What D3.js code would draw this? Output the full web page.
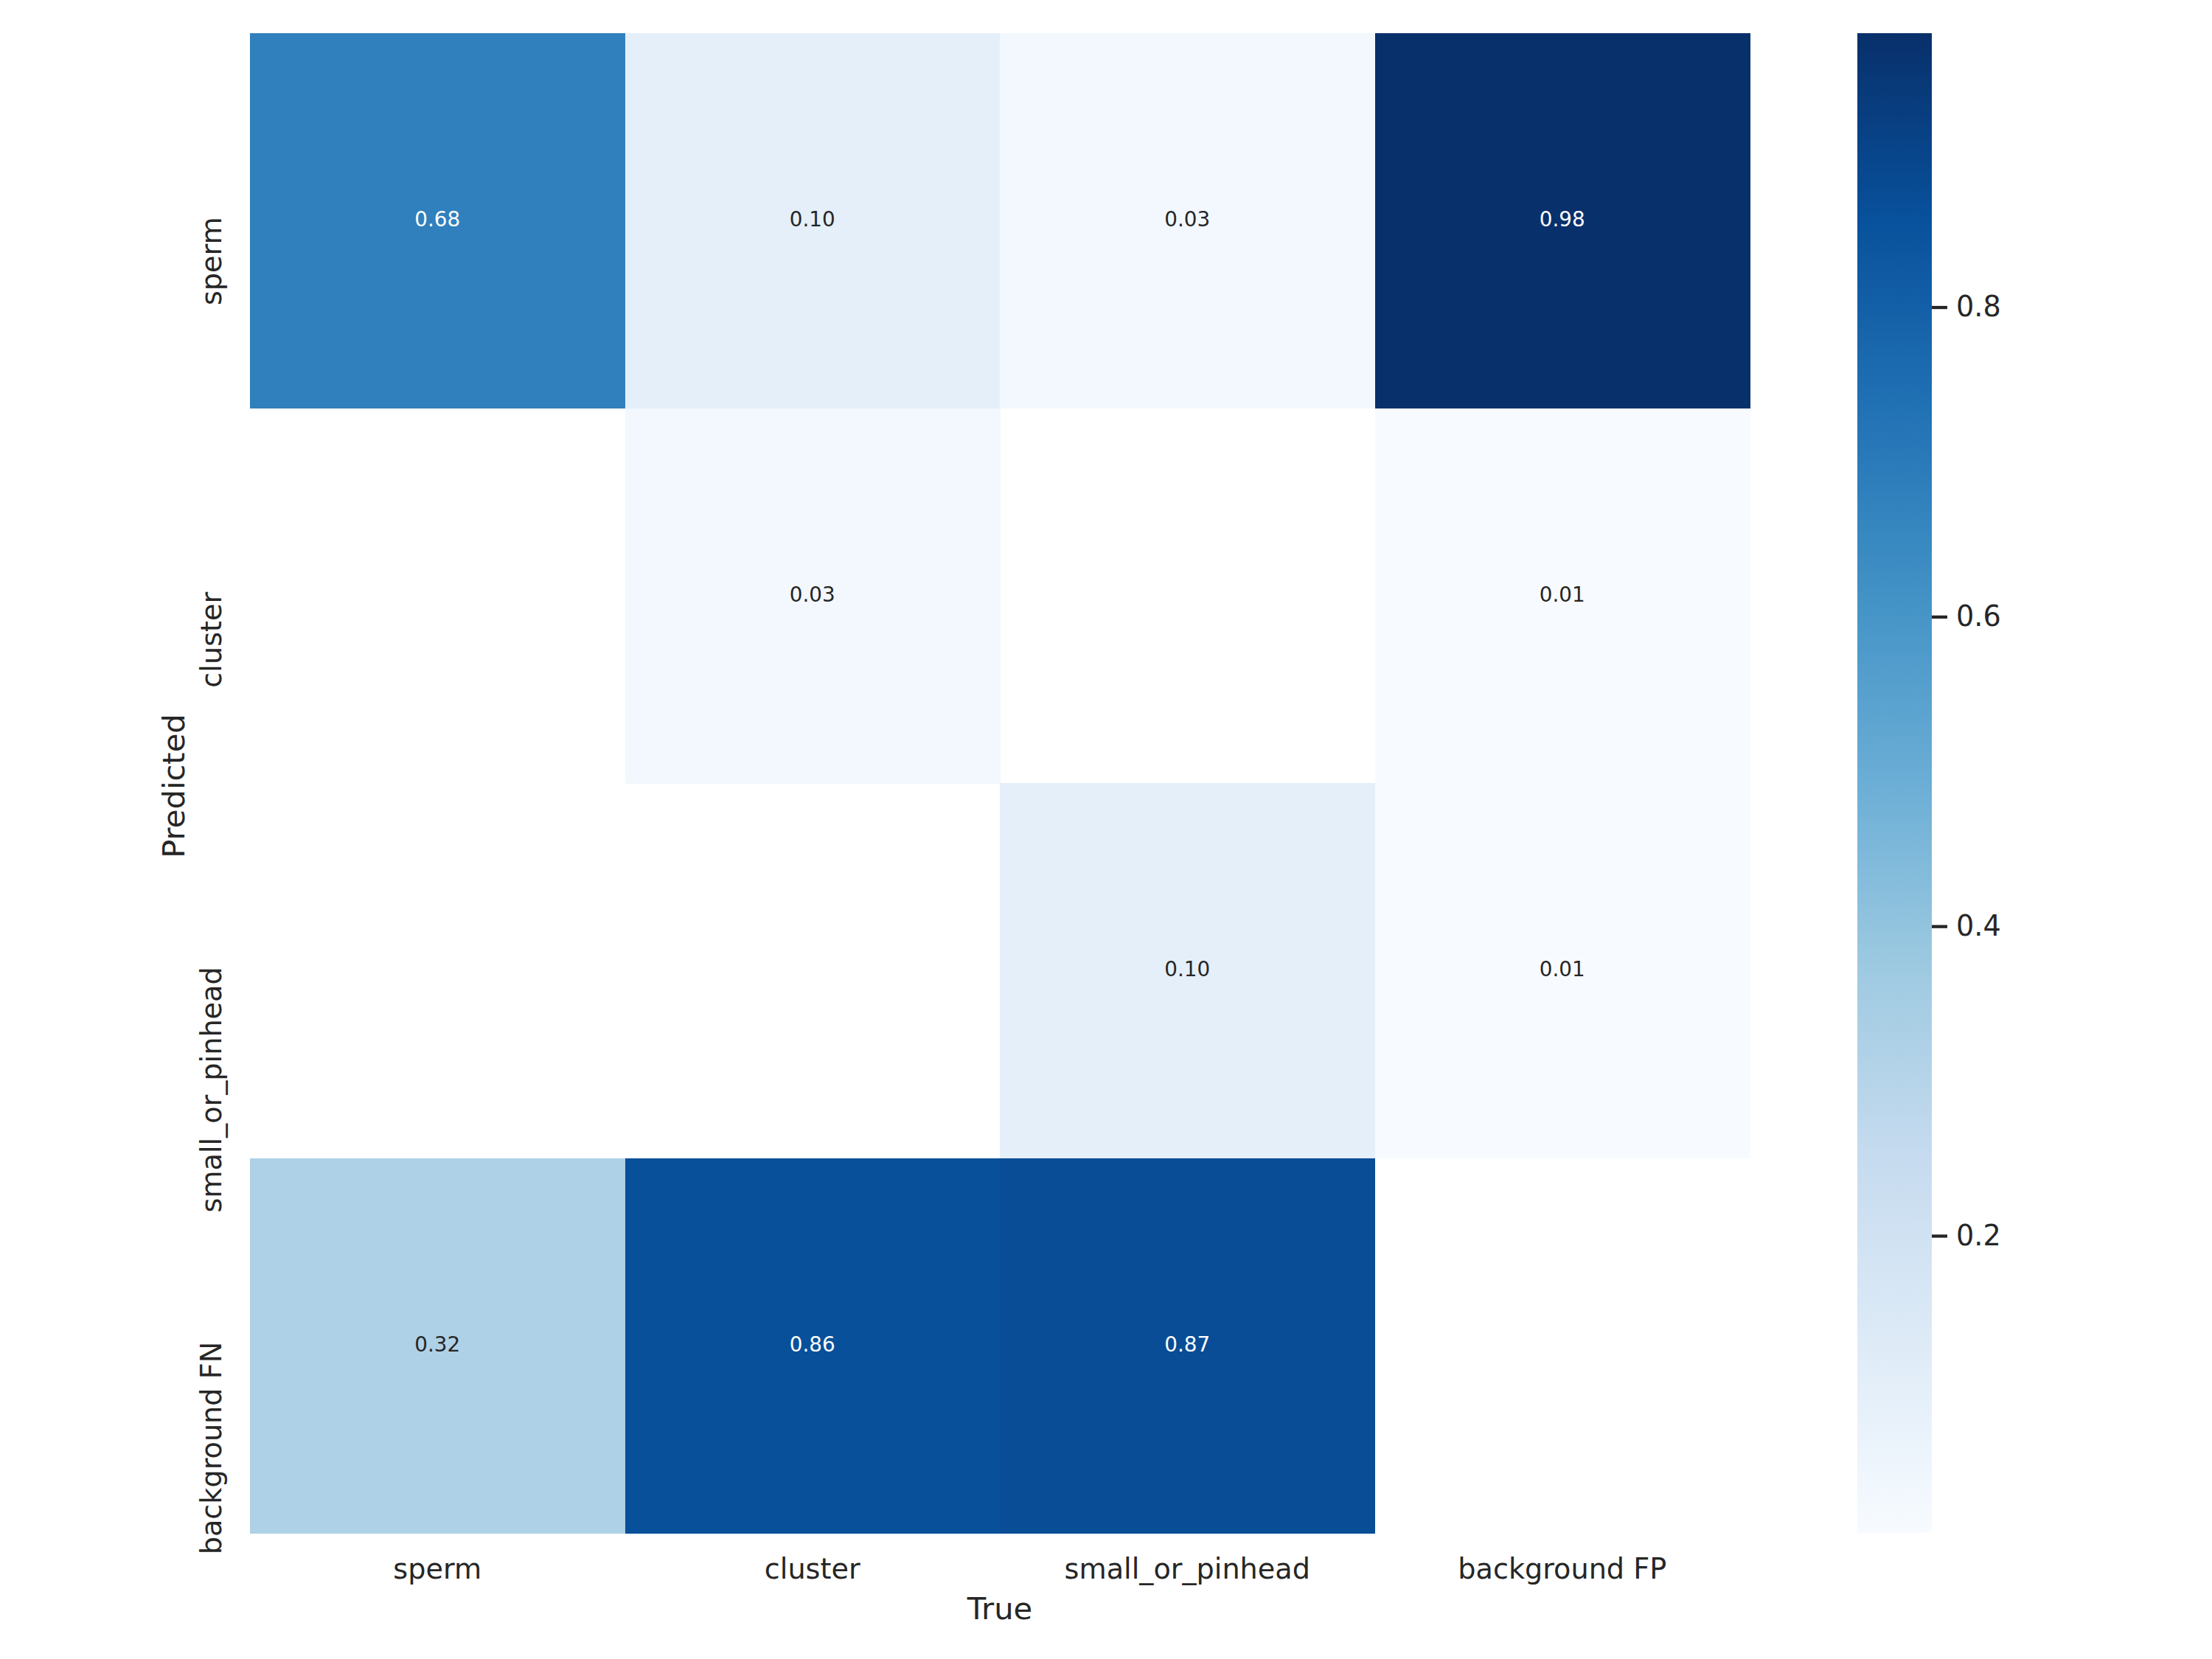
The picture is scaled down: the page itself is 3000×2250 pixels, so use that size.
<!DOCTYPE html>
<html>
<head>
<meta charset="utf-8">
<script src="https://cdn.jsdelivr.net/npm/d3@7"></script>
<style>
  html, body { margin: 0; padding: 0; background: #ffffff; }
  svg { display: block; }
  text { font-family: "DejaVu Sans", sans-serif; }
</style>
</head>
<body>
<svg id="chart" width="3000" height="2250"></svg>
<script>
// ---------------- data ----------------
const trueLabels = ["sperm", "cluster", "small_or_pinhead", "background FP"];
const predictedLabels = ["sperm", "cluster", "small_or_pinhead", "background FN"];
// one array per predicted row, values per true column (null = blank cell)
const rowSperm        = [0.68, 0.10, 0.03, 0.977];
const rowCluster      = [null, 0.03, null, 0.01];
const rowSmallPinhead = [null, null, 0.10, 0.008];
const rowBackgroundFN = [0.32, 0.86, 0.87, null];
const colorbarTicks = [0.2, 0.4, 0.6, 0.8];
const bluesColors = ["#f7fbff", "#deebf7", "#c6dbef", "#9ecae1", "#6baed6", "#4292c6", "#2171b5", "#08519c", "#08306b"];

const rows = [rowSperm, rowCluster, rowSmallPinhead, rowBackgroundFN];

// ---------------- layout ----------------
const svg = d3.select("#chart");
const heat = { left: 339, right: 2373, top: 45, bottom: 2079 };
const cbar = { left: 2519, right: 2620 };
const ink = "#262626";

const cells = [];
rows.forEach((r, i) => r.forEach((v, j) => {
  if (v !== null) cells.push({ row: predictedLabels[i], col: trueLabels[j], value: v });
}));

const ext = d3.extent(cells, d => d.value);
const colorDomain = bluesColors.map((c, k) => ext[0] + (ext[1] - ext[0]) * k / (bluesColors.length - 1));
const color = d3.scaleLinear().domain(colorDomain).range(bluesColors).interpolate(d3.interpolateRgb).clamp(true);

const x = d3.scaleBand().domain(trueLabels).range([heat.left, heat.right]).padding(0);
const y = d3.scaleBand().domain(predictedLabels).range([heat.top, heat.bottom]).padding(0);

// cells
svg.append("g").selectAll("rect").data(cells).join("rect")
  .attr("x", d => x(d.col))
  .attr("y", d => y(d.row))
  .attr("width", x.bandwidth() + 0.5)
  .attr("height", y.bandwidth() + 0.5)
  .attr("fill", d => color(d.value))
  .attr("shape-rendering", "crispEdges");

function luminance(c) {
  const rgb = d3.rgb(c);
  const f = v => { v /= 255; return v <= 0.03928 ? v / 12.92 : Math.pow((v + 0.055) / 1.055, 2.4); };
  return 0.2126 * f(rgb.r) + 0.7152 * f(rgb.g) + 0.0722 * f(rgb.b);
}

// annotations
const annFs = 27.8;
svg.append("g").selectAll("text").data(cells).join("text")
  .attr("x", d => x(d.col) + x.bandwidth() / 2)
  .attr("y", d => y(d.row) + y.bandwidth() / 2 + annFs * 0.364 - 2)
  .attr("text-anchor", "middle")
  .attr("font-size", annFs)
  .attr("fill", d => luminance(color(d.value)) > 0.408 ? ink : "#ffffff")
  .text(d => d3.format(".2f")(d.value));

// x axis (True)
const tickFs = 38.2;
const xAxis = d3.axisBottom(x).tickSize(0).tickPadding(34.5);
const gx = svg.append("g").attr("transform", `translate(0,${heat.bottom})`).call(xAxis);
gx.select(".domain").remove();
gx.selectAll("text").attr("font-size", tickFs).attr("fill", ink).attr("font-family", "DejaVu Sans");

// y tick labels (rotated, text end anchored near row centre)
svg.append("g").selectAll("text").data(predictedLabels).join("text")
  .attr("transform", d => `translate(300,${y(d) + y.bandwidth() / 2 - 5}) rotate(-90)`)
  .attr("text-anchor", "end")
  .attr("font-size", tickFs)
  .attr("fill", ink)
  .text(d => d);

// axis labels
const labelFs = 41.67;
svg.append("text")
  .attr("x", (heat.left + heat.right) / 2)
  .attr("y", 2196)
  .attr("text-anchor", "middle")
  .attr("font-size", labelFs)
  .attr("fill", ink)
  .text("True");
svg.append("text")
  .attr("transform", `translate(250,${(heat.top + heat.bottom) / 2 + 4}) rotate(-90)`)
  .attr("text-anchor", "middle")
  .attr("font-size", labelFs)
  .attr("fill", ink)
  .text("Predicted");

// colorbar
const cy = d3.scaleLinear().domain(ext).range([heat.bottom, heat.top]);
const defs = svg.append("defs");
const grad = defs.append("linearGradient").attr("id", "cbgrad")
  .attr("x1", 0).attr("y1", 1).attr("x2", 0).attr("y2", 0);
grad.selectAll("stop").data(bluesColors).join("stop")
  .attr("offset", (d, k) => k / (bluesColors.length - 1))
  .attr("stop-color", d => d);
svg.append("rect")
  .attr("x", cbar.left).attr("y", cy(ext[1]))
  .attr("width", cbar.right - cbar.left)
  .attr("height", cy(ext[0]) - cy(ext[1]))
  .attr("fill", "url(#cbgrad)");

const cAxis = d3.axisRight(cy).tickValues(colorbarTicks).tickFormat(d3.format(".1f")).tickSize(21).tickPadding(12);
const gc = svg.append("g").attr("transform", `translate(${cbar.right},0)`).call(cAxis);
gc.select(".domain").remove();
gc.selectAll("line").attr("stroke", ink).attr("stroke-width", 4.3);
gc.selectAll("text").attr("font-size", tickFs).attr("fill", ink).attr("font-family", "DejaVu Sans");
</script>
</body>
</html>
